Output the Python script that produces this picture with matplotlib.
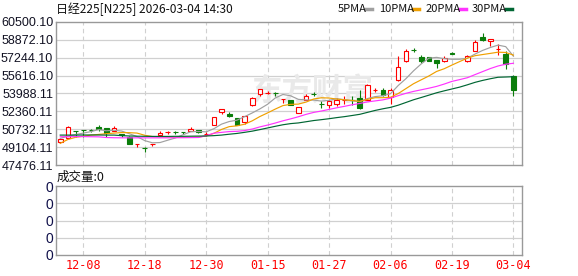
import matplotlib
matplotlib.use('Agg')
import matplotlib.pyplot as plt
from matplotlib.patches import Rectangle
from matplotlib.lines import Line2D
import numpy as np

plt.rcParams['font.family'] = ['Noto Sans CJK SC', 'DejaVu Sans']

# trading days shown (12-03 .. 03-04)
dates = ['12-03', '12-04', '12-05', '12-08', '12-09', '12-10', '12-11', '12-12', '12-15', '12-16',
         '12-17', '12-18', '12-19', '12-22', '12-23', '12-24', '12-25', '12-26', '12-29', '12-30',
         '01-05', '01-06', '01-07', '01-08', '01-09', '01-13', '01-14', '01-15', '01-16', '01-19',
         '01-20', '01-21', '01-22', '01-23', '01-26', '01-27', '01-28', '01-29', '01-30', '02-02',
         '02-03', '02-04', '02-05', '02-06', '02-09', '02-10', '02-12', '02-13', '02-16', '02-17',
         '02-18', '02-19', '02-20', '02-24', '02-25', '02-26', '02-27', '03-02', '03-03', '03-04']

nan = float('nan')
opens = [49540, 49965, 50580, 50650, 50640, 50906, 50815, 50603, 50270, 50060,
         49400, 49000, 49358, 50177, 50440, 50460, 50460, 50572, 50663, 50290,
         51119, 52272, 52121, 51787, 51422, 52940, 53912, 54050, 54010, 53470,
         53396, 52242, 53440, 53960, 53040, 52910, 53032, 53410, 53410, 53578,
         53426, 54290, 54337, 53700, 55187, 56917, 57930, 57282, 57282, 57009,
         56918, 57650, nan, 56918, 57828, 59134, 58739, 58060, 57616, 55551]
highs = [49870, 51000, 50600, 50660, 50750, 51119, 50830, 51028, 50300, 50100,
         49430, 49146, 49419, 50572, 50570, 50540, 50470, 50936, 50670, 50450,
         51870, 52546, 52333, 51800, 51930, 53700, 54420, 54215, 54155, 53500,
         53420, 52800, 53960, 54130, 53275, 53426, 53578, 53730, 53730, 54337,
         54853, 54489, 54489, 54489, 57373, 58041, 58132, 57525, 57290, 57070,
         57434, 57768, nan, 57525, 58891, 59498, 58960, 58496, 57889, 55703]
lows = [49480, 49940, 50060, 50060, 50510, 50572, 50060, 50600, 50060, 49400,
        49115, 48630, 49237, 50170, 50270, 50300, 50300, 50570, 50360, 50150,
        51100, 52121, 51848, 51119, 51240, 52820, 53800, 53912, 53790, 53153,
        52900, 52230, 53430, 53740, 52667, 52667, 52820, 53032, 52970, 52600,
        53400, 54094, 53730, 53032, 55096, 56900, 57737, 56766, 56910, 56310,
        56826, 57586, nan, 56900, 57820, 58739, 58284, 57525, 56250, 53730]
closes = [49813, 50967, 50560, 50630, 50620, 50724, 50420, 50815, 50250, 49419,
          49420, 48980, 49419, 50390, 50460, 50440, 50450, 50785, 50512, 50300,
          51848, 52546, 51970, 51119, 51908, 53548, 54398, 54070, 53990, 53490,
          52940, 52789, 53800, 53930, 53020, 53335, 53426, 53430, 53390, 52667,
          54732, 54310, 53821, 54307, 56402, 57828, 57910, 56978, 56918, 56766,
          57221, 57630, nan, 57373, 58678, 58891, 58951, 58080, 56675, 54337]

ma5 = [49900, 50100, 50250, 50380, 50518, 50700, 50591, 50642, 50566, 50326,
       50065, 49697, 49498, 49522, 49734, 49938, 50232, 50505, 50529, 50497,
       50779, 51198, 51435, 51557, 51878, 52218, 52589, 53009, 53583, 53899,
       53778, 53456, 53402, 53388, 53296, 53363, 53508, 53428, 53320, 53250,
       53529, 53706, 53784, 53967, 54714, 55334, 56054, 56685, 57207, 57280,
       57159, 57103, 57107, 57198, 57580, 57914, 58179, 58395, 58255, 57387]
ma10 = [49450, 49800, 50000, 50100, 50200, 50260, 50330, 50380, 50430, 50422,
        50383, 50184, 50070, 50046, 50030, 50001, 50004, 50001, 50028, 50116,
        50358, 50715, 50970, 51043, 51188, 51499, 51893, 52222, 52570, 52889,
        52998, 53022, 53205, 53486, 53598, 53576, 53479, 53415, 53355, 53273,
        53452, 53604, 53606, 53644, 53982, 54431, 54880, 55235, 55587, 55997,
        56246, 56578, 56896, 57203, 57430, 57537, 57641, 57751, 57727, 57484]
ma20 = [50050, 50050, 50060, 50060, 50050, 50040, 49980, 49960, 49950, 49950,
        49950, 49950, 49950, 49950, 49950, 49960, 49960, 49970, 49980, 50150,
        50370, 50449, 50520, 50544, 50609, 50750, 50949, 51112, 51299, 51502,
        51678, 51869, 52088, 52265, 52393, 52537, 52686, 52818, 52962, 53081,
        53225, 53313, 53406, 53565, 53790, 54004, 54179, 54325, 54471, 54635,
        54850, 55092, 55252, 55424, 55707, 55985, 56261, 56494, 56658, 56741]
ma30 = [50200, 50200, 50200, 50210, 50210, 50210, 50200, 50200, 50150, 50120,
        50100, 50090, 50080, 50080, 50080, 50090, 50090, 50100, 50110, 50120,
        50150, 50200, 50280, 50350, 50450, 50560, 50700, 50850, 51000, 51142,
        51246, 51307, 51415, 51525, 51605, 51692, 51792, 51879, 51984, 52092,
        52269, 52447, 52594, 52724, 52922, 53169, 53417, 53624, 53837, 54053,
        54232, 54401, 54569, 54778, 55003, 55181, 55333, 55467, 55490, 55518]

price_ticks = [47476.11, 49104.11, 50732.11, 52360.11, 53988.11, 55616.10, 57244.10, 58872.10, 60500.10]
price_labels = ['47476.11', '49104.11', '50732.11', '52360.11', '53988.11',
                '55616.10', '57244.10', '58872.10', '60500.10']
vol_ticks = [0, 0.25, 0.5, 0.75, 1.0]
vol_labels = ['0', '0', '0', '0', '0']

ma_names = ['5PMA', '10PMA', '20PMA', '30PMA']
ma_colors = ['#a0a0a0', '#f0a000', '#ff33ff', '#006633']

RED = '#ff0000'
GREEN = '#0a7d0a'
GRID = '#d0d0d0'
FRAME = '#999999'

fig = plt.figure(figsize=(5.78, 2.76), dpi=100)
W, H = 578.0, 276.0
ax = fig.add_axes([56 / W, 1 - 165 / H, 466 / W, 143 / H])
axv = fig.add_axes([56 / W, 1 - 255 / H, 466 / W, 69 / H])

x = np.arange(len(dates))
label_idx = list(range(3, len(dates), 8))

for a in (ax, axv):
    a.set_xlim(-0.55, 60.12)
    for s in a.spines.values():
        s.set_color(FRAME)
        s.set_linewidth(1.0)
    a.tick_params(length=0)
    for i in label_idx:
        a.axvline(i, color=GRID, lw=0.8, ls=(0, (4, 3)), zorder=0)

# main price panel
ax.set_ylim(price_ticks[0], price_ticks[-1])
ax.set_yticks(price_ticks)
ax.set_yticklabels(price_labels, family='Liberation Sans', fontsize=9, color='#111122')
ax.tick_params(axis='y', pad=2)
ax.set_xticks([])
for t in price_ticks[1:-1]:
    ax.axhline(t, color=GRID, lw=0.9, zorder=0)

ax.text(0.55, 0.52, '东方财富', transform=ax.transAxes, fontsize=22, fontweight='bold',
        color='#e9e9e9', ha='center', va='center', zorder=0)

w = 0.6
for i in x:
    o, h, l, c = opens[i], highs[i], lows[i], closes[i]
    if np.isnan(o):
        continue
    up = c >= o
    col = RED if up else GREEN
    ax.vlines(i, l, h, color=col, lw=0.8, zorder=2)
    ax.add_patch(Rectangle((i - w / 2, min(o, c)), w, abs(c - o),
                           facecolor='white' if up else col, edgecolor=col,
                           lw=0.8, zorder=3))

for ma, col in zip([ma5, ma10, ma20, ma30], ma_colors):
    ax.plot(x, ma, color=col, lw=0.85, zorder=4)

# volume panel
axv.set_ylim(0, 1)
axv.set_yticks(vol_ticks)
axv.set_yticklabels(vol_labels, family='Liberation Sans', fontsize=10, color='#10104a')
axv.tick_params(axis='y', pad=2)
for t in vol_ticks[1:-1]:
    axv.axhline(t, color=GRID, lw=0.9, zorder=0)
axv.set_xticks(label_idx)
axv.set_xticklabels([dates[i] for i in label_idx], color=RED, fontsize=8.5,
                    family='DejaVu Sans Mono')
axv.tick_params(axis='x', pad=3)

# header texts
fig.text(56 / W, 1 - 9 / H, '日经225[N225] 2026-03-04 14:30', fontsize=8.6,
         color='#111111', va='center', ha='left')
fig.text(57 / W, 1 - 177 / H, '成交量:0', fontsize=9, color='#111111', va='center', ha='left')

leg_x = [338, 379, 426, 472]
dash_x = [366, 413, 460, 506]
for name, col, lx, dx in zip(ma_names, ma_colors, leg_x, dash_x):
    fig.text(lx / W, 1 - 9 / H, name, fontsize=8, color='#111111', va='center', ha='left')
    fig.add_artist(Line2D([dx / W, (dx + 6) / W], [1 - 9 / H, 1 - 9 / H],
                          color=col, lw=2.5, transform=fig.transFigure))

fig.savefig('out.png', dpi=100)
